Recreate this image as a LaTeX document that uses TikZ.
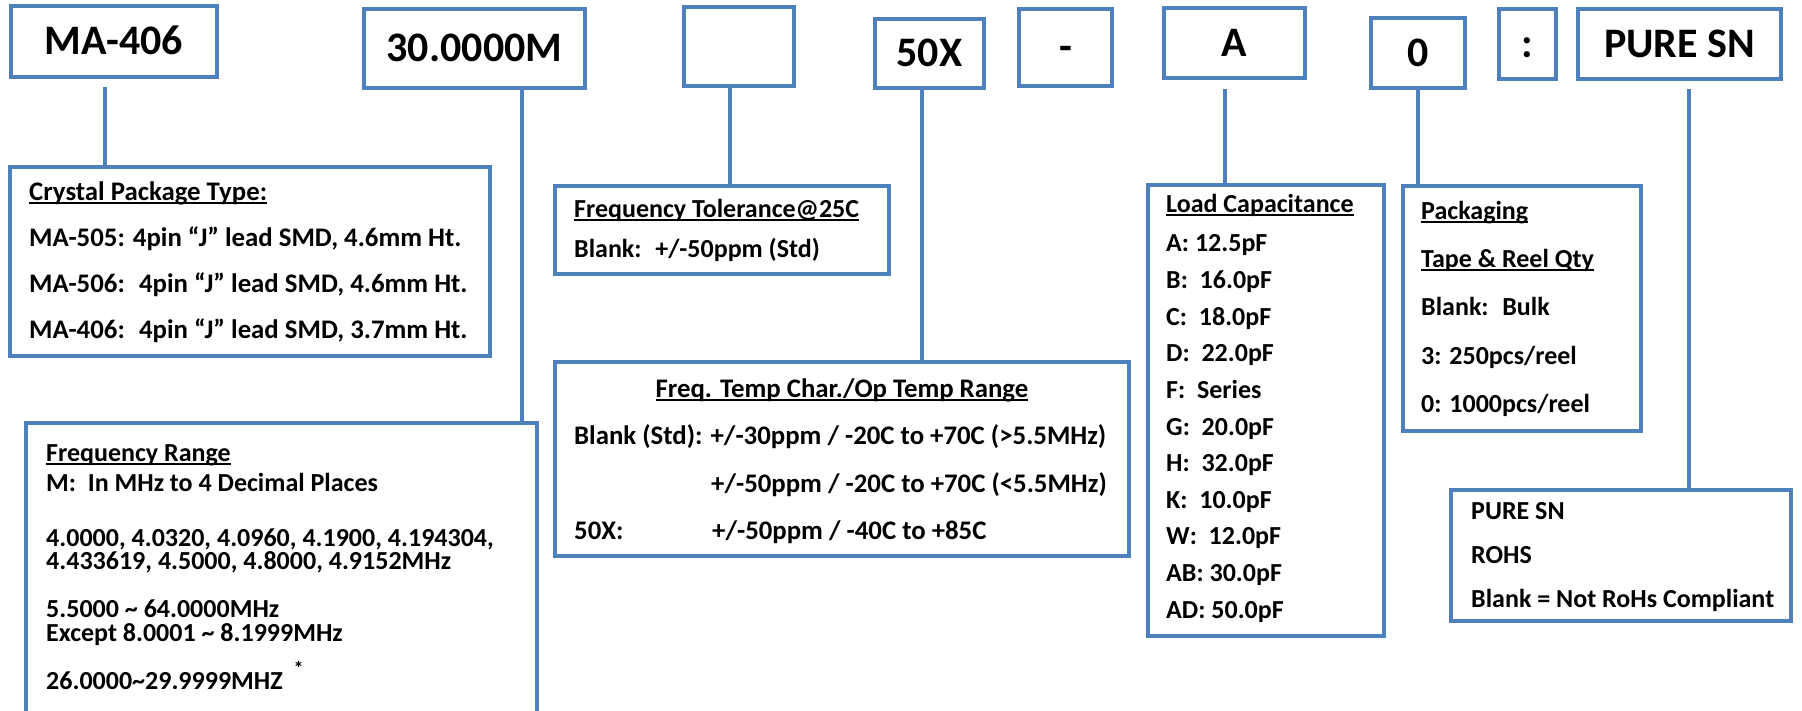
\documentclass[tikz,border=0pt]{standalone}
\usepackage{fontspec}
\setmainfont{Carlito}
\usetikzlibrary{calc}
\definecolor{boxblue}{HTML}{4F81BD}
\newcommand\ulbox[1]{\setbox0\hbox{#1}\rlap{\rule[-3.5pt]{\wd0}{2pt}}\box0}

\begin{document}
\begin{tikzpicture}[x=1pt, y=1pt,
        frame/.style={rectangle, draw=boxblue, line width=4.5pt, inner sep=0pt, outer sep=0pt},
        code/.style={frame, font=\fontsize{42}{46}\selectfont\bfseries, text height=27pt, text depth=0pt},
        txt/.style={anchor=base west, inner sep=0pt, font=\fontsize{26}{30}\selectfont\bfseries},
        wide/.style={txt, font=\fontsize{26.8}{30}\selectfont\bfseries},
        link/.style={draw=boxblue, line width=4.5pt}]
            \useasboundingbox (0,0) rectangle (1802,-711);
            \clip (0,0) rectangle (1802,-711);

            \node[code, minimum width=206, minimum height=71] (ma) at (114,-41.5) {MA-406};
            \node[code, minimum width=221, minimum height=79] (freq) at (474.5,-48.5) {30.0000M};
            \node[code, minimum width=110, minimum height=79] (tol) at (739,-46.5) {};
            \node[code, minimum width=109, minimum height=69] (tc) at (929.5,-53.5) {50X};
            \node[code, minimum width=93, minimum height=77] (dash) at (1065.5,-47.5) {-};
            \node[code, minimum width=141, minimum height=70] (load) at (1234.5,-43) {A};
            \node[code, minimum width=94, minimum height=70] (pack) at (1418,-53) {0};
            \node[code, minimum width=57, minimum height=70] (colon) at (1527.5,-44) {:};
            \node[code, minimum width=203, minimum height=70] (finish) at (1679.5,-44) {PURE SN};

            \node[frame, minimum width=480, minimum height=189] (pkgbox) at (250,-261.5) {};
            \node[frame, minimum width=511, minimum height=290] (rangebox) at (281.5,-568) {};
            \node[frame, minimum width=334, minimum height=88] (tolbox) at (722,-230) {};
            \node[frame, minimum width=574, minimum height=194] (tcbox) at (842,-459) {};
            \node[frame, minimum width=236, minimum height=451] (loadbox) at (1266,-410.5) {};
            \node[frame, minimum width=238, minimum height=245] (packbox) at (1522,-308.5) {};
            \node[frame, minimum width=340, minimum height=131] (finbox) at (1621,-555.5) {};

            \draw[link] ([xshift=-9pt, yshift=-10pt]ma.south) -- ([xshift=-9pt]ma.south |- pkgbox.north);
            \draw[link] ([xshift=47.5pt]freq.south) -- ([xshift=47.5pt]freq.south |- rangebox.north);
            \draw[link] ([xshift=-9pt]tol.south) -- ([xshift=-9pt]tol.south |- tolbox.north);
            \draw[link] ([xshift=-7.5pt]tc.south) -- ([xshift=-7.5pt]tc.south |- tcbox.north);
            \draw[link] ([xshift=-9.5pt, yshift=-11pt]load.south) -- ([xshift=-9.5pt]load.south |- loadbox.north);
            \draw[link] (pack.south) -- (pack.south |- packbox.north);
            \draw[link] ([xshift=9.5pt, yshift=-10pt]finish.south) -- ([xshift=9.5pt]finish.south |- finbox.north);

            \foreach \t [count=\i from 0] in {{\ulbox{Crystal Package Type:}}, {MA-505: 4pin “J” lead SMD, 4.6mm Ht.}, {MA-506:~ 4pin “J” lead SMD, 4.6mm Ht.}, {MA-406:~ 4pin “J” lead SMD, 3.7mm Ht.}}
            {
                \node[wide] (pkg\i) at (29,{-201-45.7*\i}) {\t};
            }

            \foreach \y/\t [count=\i] in {461/{\ulbox{Frequency Range}}, 491/{M:~ In MHz to 4 Decimal Places}, 546/{4.0000, 4.0320, 4.0960, 4.1900, 4.194304,}, 569/{4.433619, 4.5000, 4.8000, 4.9152MHz}, 617/{5.5000 \textasciitilde{} 64.0000MHz}, 641/{Except 8.0001 \textasciitilde{} 8.1999MHz}, 689/{26.0000\textasciitilde 29.9999MHZ\hspace{11pt}\raisebox{14pt}{\fontsize{20}{20}\selectfont *}}}
            {
                \node[txt] (range\i) at (46,-\y) {\t};
            }

            \node[txt] (tol1) at (574,-218) {\ulbox{Frequency Tolerance@25C}};
            \node[txt] (tol2) at (574,-258) {Blank:~ +/-50ppm (Std)};

            \node[wide, anchor=base] (tc1) at (842,-397) {\ulbox{Freq. Temp Char./Op Temp Range}};
            \node[wide] (tc2) at (574,-444) {Blank (Std): +/-30ppm / -20C to +70C (>5.5MHz)};
            \node[wide] (tc3) at (711,-492) {+/-50ppm / -20C to +70C (<5.5MHz)};
            \node[wide] (tc4) at (574,-539) {50X:};
            \node[wide] (tc5) at (712,-539) {+/-50ppm / -40C to +85C};

            \node[txt] (load0) at (1166,-213) {\ulbox{Load Capacitance}};
            \foreach \t [count=\i] in {A: 12.5pF, B:~ 16.0pF, C:~ 18.0pF, D:~ 22.0pF, F:~ Series, G:~ 20.0pF, H:~ 32.0pF, K:~ 10.0pF, W:~ 12.0pF, AB: 30.0pF, AD: 50.0pF}
            {
                \node[txt] (load\i) at (1166,{-252-36.6*(\i-1)}) {\t};
            }

            \foreach \t [count=\i from 0] in {{\ulbox{Packaging}}, {\ulbox{Tape \& Reel Qty}}, {Blank:~ Bulk}, {3: 250pcs/reel}, {0: 1000pcs/reel}}
            {
                \node[txt] (pack\i) at (1421,{-220-48*\i}) {\t};
            }

            \foreach \t [count=\i from 0] in {PURE SN, ROHS, Blank = Not RoHs Compliant}
            {
                \node[txt] (fin\i) at (1471,{-519-44*\i}) {\t};
            }
        \end{tikzpicture}
\end{document}
